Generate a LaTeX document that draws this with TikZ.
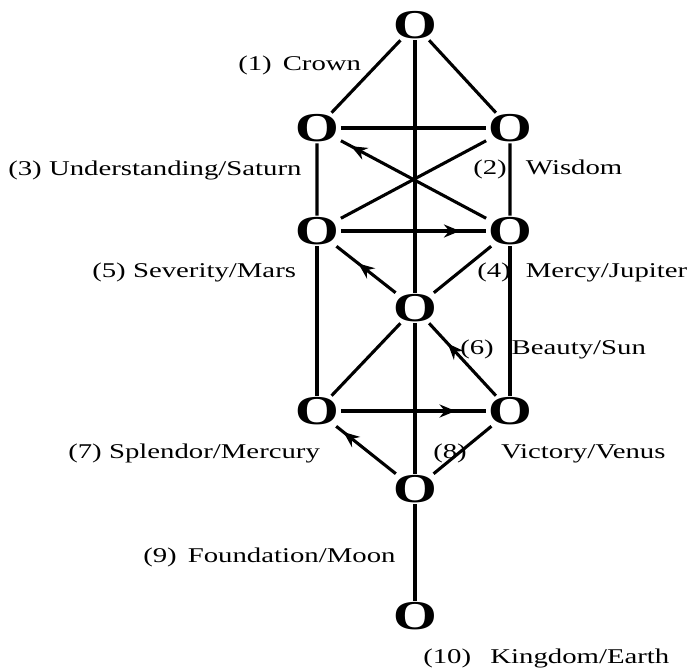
\documentclass[tikz,border=0pt]{standalone}
\usepackage{fontspec}
\setmainfont{Liberation Serif}
\usetikzlibrary{arrows.meta, decorations.markings}
\tikzset{
  sefira/.style={font=\fontsize{41}{41}\selectfont\bfseries, inner sep=0pt, outer sep=1.5pt,
    xscale=1.37, transform shape},
  lbl/.style={font=\fontsize{21}{21}\selectfont, inner sep=0pt, anchor=west,
    xscale=1.37, transform shape},
  link/.style={line width=3.1pt, black},
  flow/.style={postaction={decorate}, decoration={markings,
    mark=at position #1 with {\arrow{Stealth[length=16pt,width=13pt]}}}},
}

\begin{document}
\begin{tikzpicture}[x=1pt, y=-1pt]
  \useasboundingbox (0,0) rectangle (695,671);
  % the ten sefirot
  \foreach \n/\x/\y in {crown/415/25, wisdom/510/128, understanding/317/128,
      mercy/510/231, severity/317/231, beauty/415/308, victory/510/411,
      splendor/317/411, foundation/415/489, kingdom/415/616}
    \node[sefira] (\n) at (\x,\y) {O};
  % plain paths
  \foreach \a/\b in {crown/understanding, crown/wisdom, crown/beauty,
      understanding/wisdom, understanding/severity, wisdom/mercy, severity/wisdom,
      beauty/mercy, severity/splendor, mercy/victory, beauty/splendor,
      beauty/foundation, foundation/victory, foundation/kingdom}
    \draw[link] (\a) -- (\b);
  % paths with a direction
  \foreach \a/\b/\p in {severity/mercy/0.82, beauty/severity/0.63,
      mercy/understanding/0.93, victory/beauty/0.72, splendor/victory/0.79,
      foundation/splendor/0.88}
    \draw[link, flow=\p] (\a) -- (\b);
  \node[lbl] (crown-lbl) at (238,65) {(1)\hspace{8pt}Crown};
  \node[lbl] (wisdom-lbl) at (473,169) {(2)\hspace{14pt}Wisdom};
  \node[lbl] (understanding-lbl) at (8,170) {(3) Understanding/Saturn};
  \node[lbl] (mercy-lbl) at (477,272) {(4)\hspace{11pt}Mercy/Jupiter};
  \node[lbl] (severity-lbl) at (92,272) {(5) Severity/Mars};
  \node[lbl] (beauty-lbl) at (460,349) {(6)\hspace{13pt}Beauty/Sun};
  \node[lbl] (splendor-lbl) at (68,453) {(7) Splendor/Mercury};
  \node[lbl] (victory-lbl) at (433,453) {(8)\hspace{25pt}Victory/Venus};
  \node[lbl] (foundation-lbl) at (143,557) {(9)\hspace{8pt}Foundation/Moon};
  \node[lbl] (kingdom-lbl) at (423,658) {(10)\hspace{14pt}Kingdom/Earth};
\end{tikzpicture}
\end{document}
